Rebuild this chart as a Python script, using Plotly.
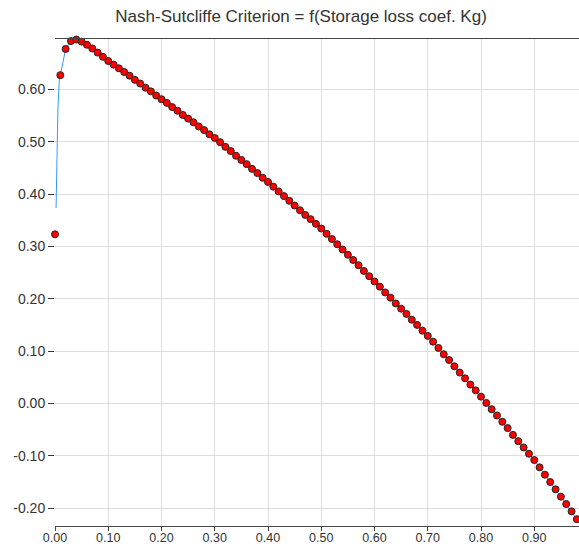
import plotly.graph_objects as go

title_text = "Nash-Sutcliffe Criterion = f(Storage loss coef. Kg)"

# Sampled points (markers): Kg from 0.00 to 0.98 step 0.01
kg = [round(i * 0.01, 2) for i in range(99)]
nash = [
    0.323, 0.627, 0.677, 0.692, 0.695, 0.691, 0.685, 0.678, 0.670, 0.662,
    0.654, 0.647, 0.640, 0.633, 0.626, 0.618, 0.611, 0.603, 0.596, 0.588,
    0.581, 0.574, 0.566, 0.559, 0.551, 0.544, 0.537, 0.529, 0.522, 0.514,
    0.507, 0.499, 0.490, 0.482, 0.473, 0.465, 0.457, 0.448, 0.440, 0.431,
    0.423, 0.414, 0.405, 0.396, 0.387, 0.378, 0.369, 0.360, 0.352, 0.343,
    0.334, 0.324, 0.314, 0.304, 0.294, 0.284, 0.274, 0.264, 0.253, 0.243,
    0.233, 0.223, 0.212, 0.202, 0.191, 0.181, 0.171, 0.160, 0.150, 0.139,
    0.129, 0.118, 0.106, 0.094, 0.083, 0.071, 0.059, 0.048, 0.036, 0.025,
    0.013, 0.001, -0.011, -0.023, -0.035, -0.047, -0.060, -0.072, -0.084, -0.096,
    -0.108, -0.122, -0.136, -0.150, -0.164, -0.178, -0.192, -0.206, -0.221,
]

# Fine-resolution curve near the origin (blue line only)
kg_fine = [0.002, 0.003, 0.004, 0.0055, 0.008]
nash_fine = [0.373, 0.437, 0.500, 0.564, 0.615]

# Tick labels
x_tick_vals = [0.0, 0.1, 0.2, 0.3, 0.4, 0.5, 0.6, 0.7, 0.8, 0.9]
x_tick_text = ["0.00", "0.10", "0.20", "0.30", "0.40", "0.50", "0.60", "0.70", "0.80", "0.90"]
y_tick_vals = [-0.2, -0.1, 0.0, 0.1, 0.2, 0.3, 0.4, 0.5, 0.6]
y_tick_text = ["-0.20", "-0.10", "0.00", "0.10", "0.20", "0.30", "0.40", "0.50", "0.60"]

line_x = kg_fine + kg[1:]
line_y = nash_fine + nash[1:]

fig = go.Figure()
fig.add_trace(go.Scatter(
    x=line_x, y=line_y, mode="lines",
    line=dict(color="#3399ff", width=1),
    hoverinfo="skip", showlegend=False, cliponaxis=False,
))
fig.add_trace(go.Scatter(
    x=kg, y=nash, mode="markers",
    marker=dict(color="#ff0000", size=7, line=dict(color="#222222", width=1)),
    showlegend=False, cliponaxis=False,
))

font_family = "Liberation Sans, Arial, sans-serif"
fig.update_layout(
    width=579, height=547,
    margin=dict(l=55, r=0, t=39, b=21),
    paper_bgcolor="white", plot_bgcolor="white",
    font=dict(family=font_family, size=14, color="#333333"),
    title=dict(text=title_text, x=0.52, xanchor="center", y=1 - 16 / 547,
               yanchor="middle", font=dict(size=17, color="#333333")),
    xaxis=dict(
        range=[0, 0.984], tickmode="array", tickvals=x_tick_vals, ticktext=x_tick_text,
        showgrid=True, gridcolor="#dddddd", gridwidth=1, zeroline=False,
        showline=True, linecolor="#444444", linewidth=1, mirror=True,
        ticks="outside", ticklen=4, tickcolor="#444444",
        tickfont=dict(size=12.5, color="#333333"), automargin=False,
        ticklabelstandoff=-4,
    ),
    yaxis=dict(
        range=[-0.234, 0.696], tickmode="array", tickvals=y_tick_vals, ticktext=y_tick_text,
        showgrid=True, gridcolor="#dddddd", gridwidth=1, zeroline=False,
        showline=False,
        ticks="outside", ticklen=6, tickcolor="#333333",
        tickfont=dict(size=14, color="#333333"), automargin=False,
    ),
)

fig.write_html("out.html")
